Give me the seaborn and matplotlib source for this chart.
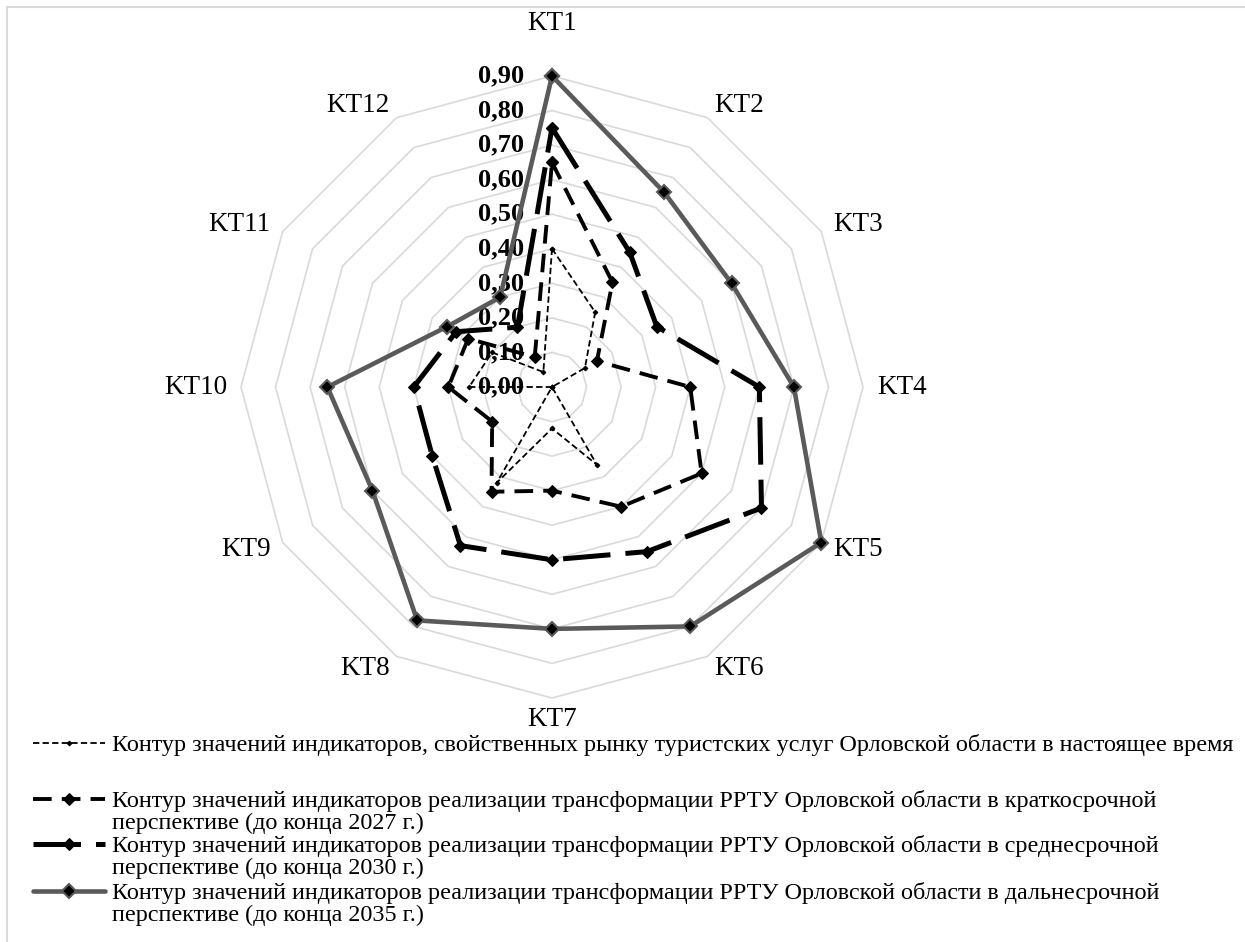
import numpy as np
import pandas as pd
import matplotlib.pyplot as plt
import seaborn as sns
from matplotlib.patches import Rectangle

categories = ['KT1', 'KT2', 'KT3', 'KT4', 'KT5', 'KT6',
              'KT7', 'KT8', 'KT9', 'KT10', 'KT11', 'KT12']
now_vals = [0.40, 0.25, 0.11, 0.00, 0.00, 0.26, 0.12, 0.32, 0.00, 0.24, 0.20, 0.05]
vals_2027 = [0.65, 0.35, 0.15, 0.40, 0.50, 0.40, 0.30, 0.35, 0.20, 0.30, 0.28, 0.10]
vals_2030 = [0.75, 0.45, 0.35, 0.60, 0.70, 0.55, 0.50, 0.53, 0.40, 0.40, 0.32, 0.20]
vals_2035 = [0.90, 0.65, 0.60, 0.70, 0.90, 0.80, 0.70, 0.78, 0.60, 0.65, 0.35, 0.30]
tick_values = [0.0, 0.1, 0.2, 0.3, 0.4, 0.5, 0.6, 0.7, 0.8, 0.9]
tick_labels = ['0,00', '0,10', '0,20', '0,30', '0,40', '0,50', '0,60', '0,70', '0,80', '0,90']
legend_lines = [
    ('Контур значений индикаторов, свойственных рынку туристских услуг Орловской области в настоящее время', ''),
    ('Контур значений индикаторов реализации трансформации РРТУ Орловской области в краткосрочной',
     'перспективе (до конца 2027 г.)'),
    ('Контур значений индикаторов реализации трансформации РРТУ Орловской области в среднесрочной',
     'перспективе (до конца 2030 г.)'),
    ('Контур значений индикаторов реализации трансформации РРТУ Орловской области в дальнесрочной',
     'перспективе (до конца 2035 г.)'),
]

sns.set_theme(style='white')
plt.rcParams['font.family'] = ['Liberation Serif', 'DejaVu Serif']
plt.rcParams['text.color'] = 'black'

W, H = 1245, 942
fig = plt.figure(figsize=(W / 100, H / 100), dpi=100)

# polar axes: centre (552, 387) px, radius 0.9 -> 311 px
cx, cy, R = 552, 387, 311
ax = fig.add_axes([(cx - R) / W, 1 - (cy + R) / H, 2 * R / W, 2 * R / H], projection='polar')
ax.set_theta_zero_location('N')
ax.set_theta_direction(-1)
ax.grid(False)
ax.spines['polar'].set_visible(False)
ax.patch.set_alpha(0)

angles = np.linspace(0, 2 * np.pi, len(categories), endpoint=False)
closed = np.append(angles, 2 * np.pi)

# polygon rings
for v in tick_values[1:]:
    ax.plot(closed, [v] * len(closed), color='#d9d9d9', lw=1.2, zorder=1, clip_on=False)

styles = [
    dict(color='black', lw=1.3, ls=(0, (3.5, 1.8)), marker='D', ms=2.4, mec='black', mfc='black'),
    dict(color='black', lw=2.8, ls=(0, (4.8, 2.6)), marker='D', ms=5.8, mec='black', mfc='black'),
    dict(color='black', lw=3.6, ls=(0, (9.5, 3.0)), marker='D', ms=6.5, mec='black', mfc='black'),
    dict(color='#5a5a5a', lw=3.3, ls='-', marker='D', ms=7, mec='#5a5a5a', mew=1.5, mfc='black'),
]
series = [now_vals, vals_2027, vals_2030, vals_2035]
handles = []
for i, (vals, st) in enumerate(zip(series, styles)):
    df = pd.DataFrame({'angle': closed, 'value': vals + vals[:1]})
    sns.lineplot(data=df, x='angle', y='value', sort=False, estimator=None,
                 ax=ax, zorder=3 + i, clip_on=False, **st)
    handles.append(ax.lines[-1])

ax.set_ylim(0, 0.9)
ax.set_xticks([])
ax.set_yticks([])
ax.set_xlabel('')
ax.set_ylabel('')

# radial value labels along the KT1 axis
for v, lab in zip(tick_values, tick_labels):
    ax.annotate(lab, xy=(0, v), xytext=(-28, 0), textcoords='offset pixels',
                ha='right', va='center', fontsize=19, fontweight='bold', zorder=2)

# category labels
for ang, cat in zip(angles, categories):
    s, c = np.sin(ang), np.cos(ang)
    pad = 14
    if abs(s) < 0.1:
        ha = 'center'
        pad = 53 if c > 0 else 22
    else:
        ha = 'left' if s > 0 else 'right'
    ax.annotate(cat, xy=(ang, 0.9), xytext=(pad * s, pad * c), textcoords='offset pixels',
                ha=ha, va='center', fontsize=19.5)

# legend below the chart
first_y = [745, 801, 846, 893]
for h, (l1, l2), y in zip(handles, legend_lines, first_y):
    fig.legend(handles=[h], labels=[l1], loc='center left',
               bbox_to_anchor=(33 / W, 1 - y / H), frameon=False,
               borderpad=0, borderaxespad=0, handlelength=2.98,
               handletextpad=0.28, fontsize=17.4)
    if l2:
        fig.text(112 / W, 1 - (y + 22.5) / H, l2, fontsize=17.4, va='center')

# light frame
fig.add_artist(Rectangle((7 / W, -0.5), 2, 1.5 - 7 / H, transform=fig.transFigure,
                         fill=False, edgecolor='#d9d9d9', lw=1.5))

fig.savefig('out.png', dpi=100)
